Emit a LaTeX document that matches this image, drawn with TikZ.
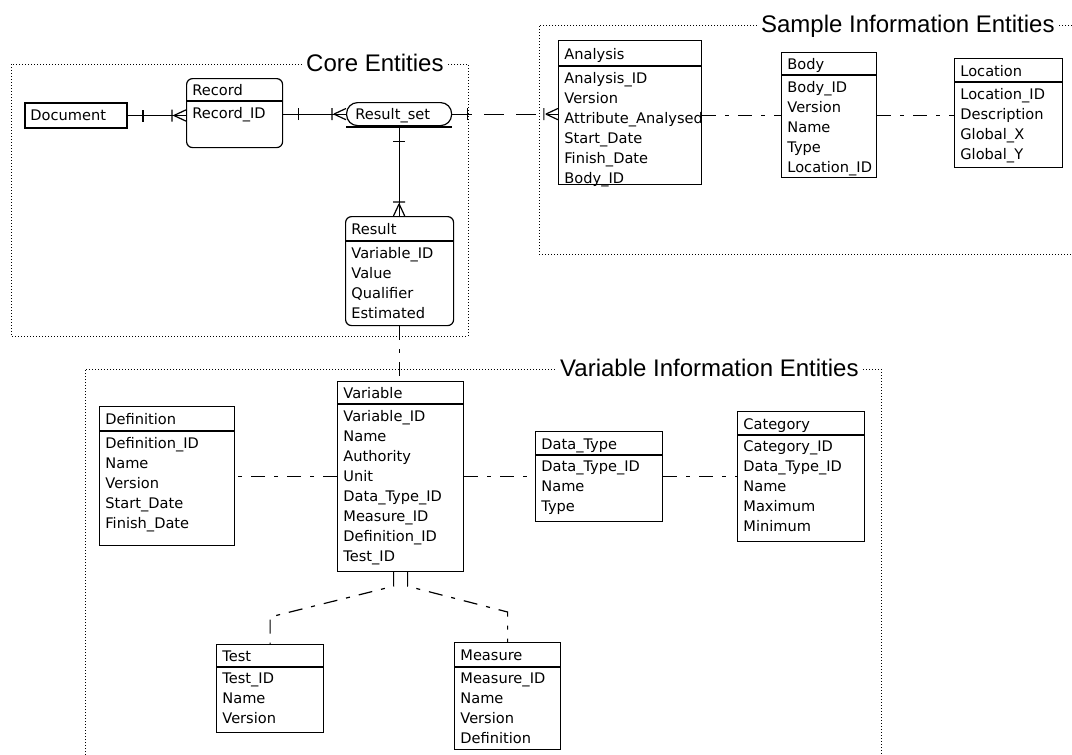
\documentclass[tikz,border=0pt]{standalone}
\usepackage{fontspec}
\setmainfont{DejaVu Sans}
\newfontfamily\titlefont{Liberation Sans}
\usetikzlibrary{decorations.markings}
\tikzset{
  entity/.style={rectangle,draw,line width=0.6pt,inner sep=0pt},
  entity head/.style={anchor=west,inner xsep=3pt,inner ysep=0pt,font=\fontsize{7.3}{10}\selectfont,text height=5.3pt,text depth=0pt},
  entity rows/.style={anchor=north west,align=left,inner xsep=3pt,inner ysep=2.8pt,font=\fontsize{7.3}{10}\selectfont},
  groupframe/.style={densely dotted,line width=0.5pt},
  group title/.style={anchor=east,fill=white,inner xsep=2pt,inner ysep=1pt,font=\titlefont\fontsize{12}{14}\selectfont,text height=8.6pt,text depth=0pt},
  link/.style={line width=0.6pt},
  ident/.style={link},
  nonident/.style={link,dash pattern=on 10pt off 6pt},
  optional/.style={link,dash pattern=on 7pt off 4.5pt on 2pt off 4.5pt},
  onemark/.style={postaction={decorate,decoration={markings,mark=at position 7.5pt with {\draw[solid] (0,-3pt) -- (0,3pt);}}}},
  manymark/.style={postaction={decorate,decoration={markings,mark=at position 0.999 with {\draw[solid] (-7pt,-3pt) -- (-7pt,3pt) (-6pt,0) -- (0,-2.8pt) (-6pt,0) -- (0,2.8pt);}}}}
}
% name, x, y, width, height, header height (px), title, rows, extra style
\newcommand{\entitytable}[9]{%
  \node[entity,#9,minimum width=#4*0.5pt,minimum height=#5*0.5pt,anchor=north west] (#1) at (#2,#3) {};
  \draw[line width=0.6pt] ([yshift=-#6*0.5pt]#1.north west) -- ([yshift=-#6*0.5pt]#1.north east);
  \node[entity head] at ([yshift=-#6*0.25pt-0.5pt]#1.north west) {#7};
  \node[entity rows] at ([yshift=-#6*0.5pt]#1.north west) {#8};
}

\begin{document}
\begin{tikzpicture}[x=0.5pt,y=-0.5pt]
\fill[white] (0,0) rectangle (1072,755);
\useasboundingbox (0,0) rectangle (1072,755);

% groups
\draw[groupframe] (11,64) rectangle (468,336);
\node[group title] (coretitle) at (448,63) {Core Entities};
\draw[groupframe] (1072,25) -- (539,25) -- (539,254) -- (1072,254);
\node[group title] (sampletitle) at (1059,24) {Sample Information Entities};
\draw[groupframe] (85,755) -- (85,369) -- (881,369) -- (881,755);
\node[group title] (variabletitle) at (863,368) {Variable Information Entities};

% core entities
\node[entity,line width=1pt,minimum width=51pt,minimum height=12.5pt,anchor=north west] (document) at (24,102) {};
\node[entity head] at (document.west) {Document};
\entitytable{record}{186}{78}{96}{69}{23}{Record}{Record\_ID}{rounded corners=3pt}
\node[entity,rounded corners=5.5pt,minimum width=52.5pt,minimum height=11.5pt,anchor=north west] (resultset) at (346,102) {};
\node[entity head,inner xsep=4.5pt] at (resultset.west) {Result\_set};
\draw[line width=1pt] ([yshift=-0.6pt]resultset.south west) -- ([yshift=-0.6pt]resultset.south east);
\entitytable{result}{345}{216}{108}{109}{25}{Result}{Variable\_ID\\Value\\Qualifier\\Estimated}{rounded corners=3pt}

% sample information entities
\entitytable{analysis}{558}{40}{143}{144}{26}{Analysis}{Analysis\_ID\\Version\\Attribute\_Analysed\\Start\_Date\\Finish\_Date\\Body\_ID}{}
\entitytable{body}{781}{52}{95}{125}{23}{Body}{Body\_ID\\Version\\Name\\Type\\Location\_ID}{}
\entitytable{location}{954}{58}{108}{109}{24}{Location}{Location\_ID\\Description\\Global\_X\\Global\_Y}{}

% variable information entities
\entitytable{definition}{99}{406}{135}{139}{25}{Definition}{Definition\_ID\\Name\\Version\\Start\_Date\\Finish\_Date}{}
\entitytable{variable}{337}{381}{126}{190}{23}{Variable}{Variable\_ID\\Name\\Authority\\Unit\\Data\_Type\_ID\\Measure\_ID\\Definition\_ID\\Test\_ID}{}
\entitytable{datatype}{535}{431}{127}{90}{24}{Data\_Type}{Data\_Type\_ID\\Name\\Type}{}
\entitytable{category}{737}{411}{127}{130}{24}{Category}{Category\_ID\\Data\_Type\_ID\\Name\\Maximum\\Minimum}{}
\entitytable{test}{216}{644}{107}{88}{23}{Test}{Test\_ID\\Name\\Version}{}
\entitytable{measure}{454}{642}{106}{107}{25}{Measure}{Measure\_ID\\Name\\Version\\Definition}{}

% relationships
\draw[ident,onemark,manymark] (document.east) -- (document.east -| record.west);
\draw[ident,onemark,manymark] (record.east |- resultset.west) -- (resultset.west);
\draw[ident,onemark,manymark] (resultset.south) -- (resultset.south |- result.north);
\draw[nonident,onemark,manymark] (resultset.east) -- (resultset.east -| analysis.west);
\draw[optional] (body.west -| analysis.east) -- (body.west);
\draw[optional] (body.east) -- (body.east -| location.west);
\draw[optional] (result.south) -- (result.south |- variable.north);
\draw[optional] (variable.west) -- (variable.west -| definition.east);
\draw[optional] (variable.east) -- (variable.east -| datatype.west);
\draw[optional] (datatype.east) -- (datatype.east -| category.west);
\draw[optional] ([xshift=-3.5pt]variable.south) -- ++(0,14) -- (test.north |- 0,617) -- (test.north);
\draw[optional] ([xshift=3.5pt]variable.south) -- ++(0,14) -- (measure.north |- 0,612) -- (measure.north);
\end{tikzpicture}
\end{document}
